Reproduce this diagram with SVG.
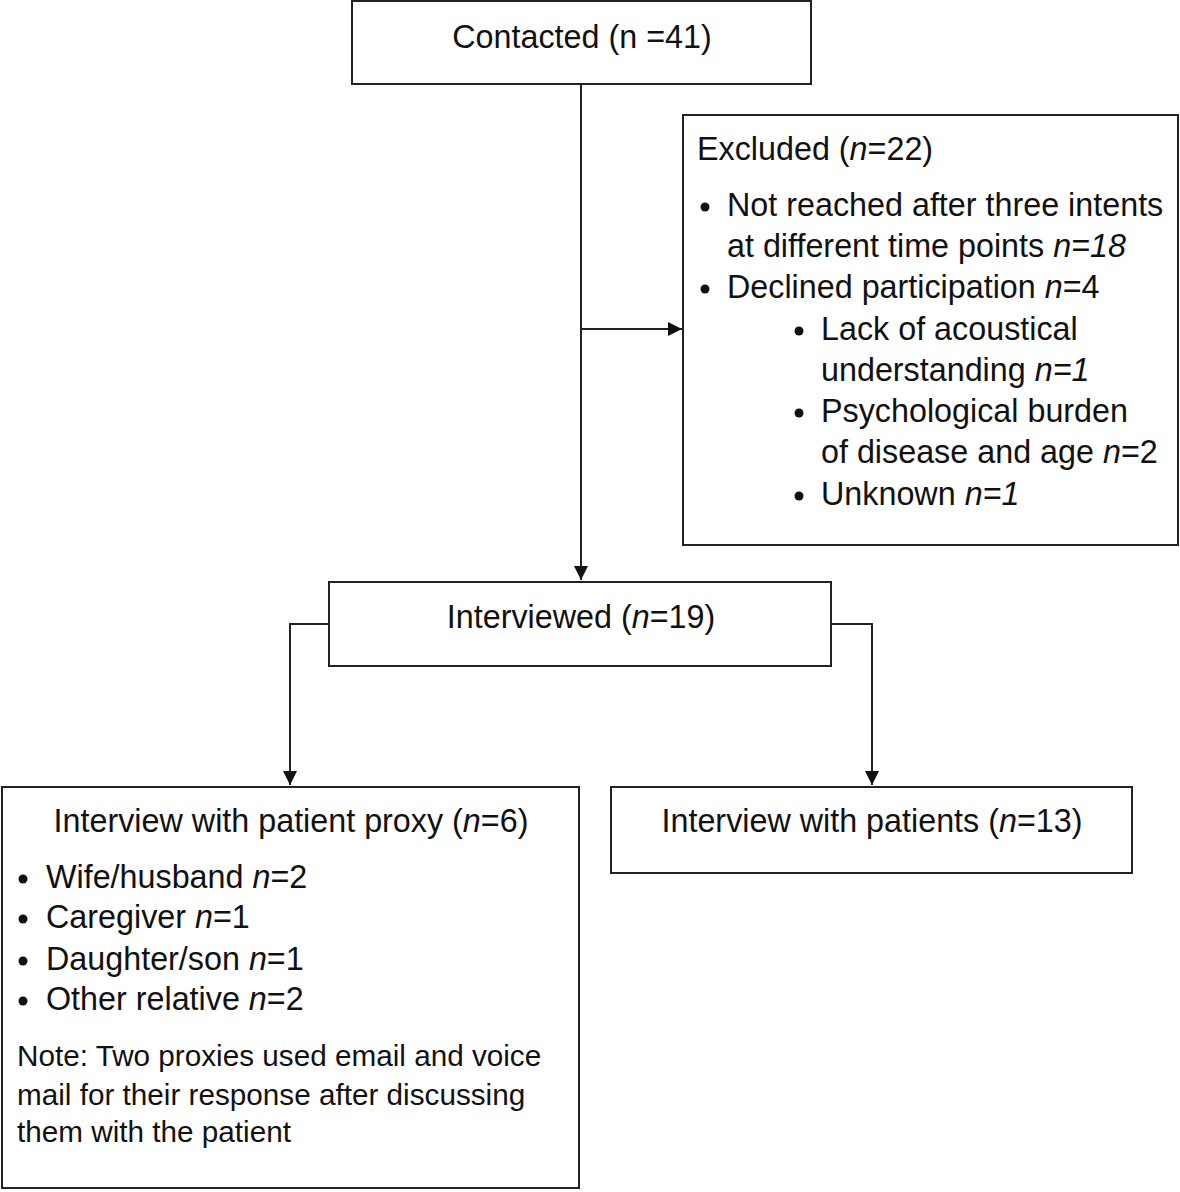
<svg xmlns="http://www.w3.org/2000/svg" width="1180" height="1192" viewBox="0 0 1180 1192">
<defs>
<marker id="arr" viewBox="0 0 14 14" refX="14" refY="7" markerWidth="14" markerHeight="14" markerUnits="userSpaceOnUse" orient="auto">
<path d="M0,0 L14,7 L0,14 Z" fill="#111"/>
</marker>
<style>
.box{fill:#fff;stroke:#222;stroke-width:2}
.t{font-family:"Liberation Sans",Arial,sans-serif;font-size:32.3px;fill:#111}
.n{font-size:29.7px}
.c{text-anchor:middle}
.i{font-style:italic}
.ln{fill:none;stroke:#222;stroke-width:2}
.b{fill:#111}
</style>
</defs>
<rect width="1180" height="1192" fill="#fff"/>
<g id="connectors">
<path class="ln" d="M581,84 V580" marker-end="url(#arr)"/>
<path class="ln" d="M581,329 H682" marker-end="url(#arr)"/>
<path class="ln" d="M329,624 H290 V785" marker-end="url(#arr)"/>
<path class="ln" d="M831,624 H872 V785" marker-end="url(#arr)"/>
</g>
<g id="contacted">
<rect class="box" x="352" y="1" width="459" height="83"/>
<text class="t c" x="582" y="48">Contacted (n =41)</text>
</g>
<g id="excluded">
<rect class="box" x="683" y="115" width="495" height="430"/>
<text class="t" x="697" y="160">Excluded (<tspan class="i">n</tspan>=22)</text>
<circle class="b" cx="705" cy="207" r="4.5"/>
<text class="t" x="727" y="216">Not reached after three intents</text>
<text class="t" x="727" y="257">at different time points <tspan class="i">n=18</tspan></text>
<circle class="b" cx="705" cy="289" r="4.5"/>
<text class="t" x="727" y="298">Declined participation <tspan class="i">n</tspan>=4</text>
<circle class="b" cx="799" cy="331" r="4.5"/>
<text class="t" x="821" y="340">Lack of acoustical</text>
<text class="t" x="821" y="381">understanding <tspan class="i">n=1</tspan></text>
<circle class="b" cx="799" cy="413" r="4.5"/>
<text class="t" x="821" y="422">Psychological burden</text>
<text class="t" x="821" y="463">of disease and age <tspan class="i">n</tspan>=2</text>
<circle class="b" cx="799" cy="496" r="4.5"/>
<text class="t" x="821" y="505">Unknown <tspan class="i">n=1</tspan></text>
</g>
<g id="interviewed">
<rect class="box" x="329" y="582" width="502" height="84"/>
<text class="t c" x="581" y="628">Interviewed (<tspan class="i">n</tspan>=19)</text>
</g>
<g id="proxy">
<rect class="box" x="2" y="787" width="577" height="401"/>
<text class="t c" x="291" y="832">Interview with patient proxy (<tspan class="i">n</tspan>=6)</text>
<circle class="b" cx="23" cy="879" r="4.5"/>
<text class="t" x="46" y="888">Wife/husband <tspan class="i">n</tspan>=2</text>
<circle class="b" cx="23" cy="919" r="4.5"/>
<text class="t" x="46" y="928">Caregiver <tspan class="i">n</tspan>=1</text>
<circle class="b" cx="23" cy="961" r="4.5"/>
<text class="t" x="46" y="970">Daughter/son <tspan class="i">n</tspan>=1</text>
<circle class="b" cx="23" cy="1001" r="4.5"/>
<text class="t" x="46" y="1010">Other relative <tspan class="i">n</tspan>=2</text>
<text class="t n" x="17" y="1066">Note: Two proxies used email and voice</text>
<text class="t n" x="17" y="1105">mail for their response after discussing</text>
<text class="t n" x="17" y="1142">them with the patient</text>
</g>
<g id="patients">
<rect class="box" x="611" y="787" width="521" height="86"/>
<text class="t c" x="872" y="832">Interview with patients (<tspan class="i">n</tspan>=13)</text>
</g>
</svg>
